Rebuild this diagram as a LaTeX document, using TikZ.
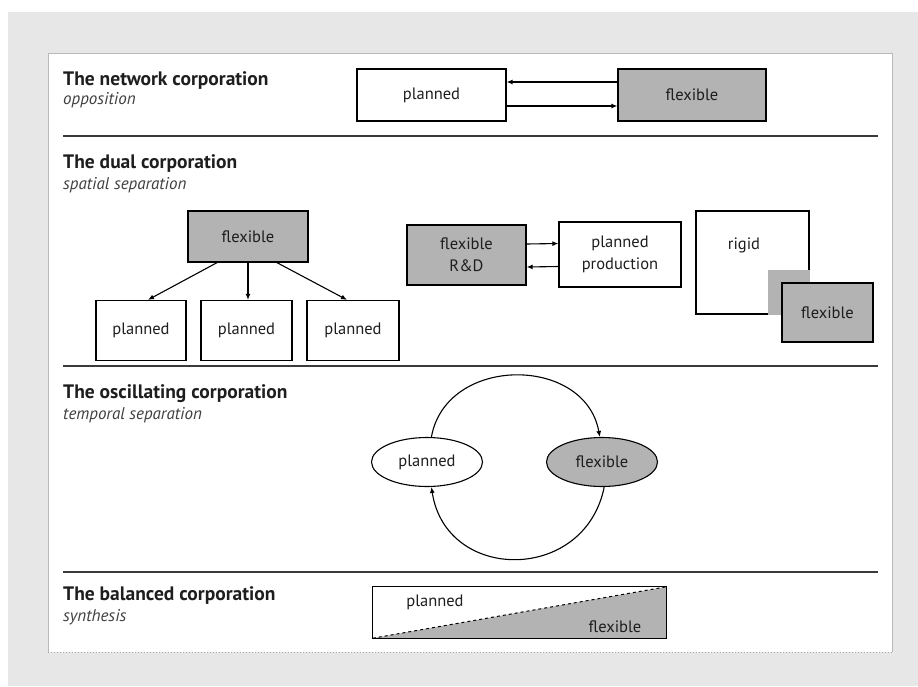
\documentclass[tikz,border=0pt]{standalone}
\usepackage{fontspec}
\setmainfont{PT Sans}
\usetikzlibrary{arrows.meta,calc,shapes.geometric}
\definecolor{pagegray}{HTML}{E6E7E6}
\definecolor{boxgray}{HTML}{B3B3B3}
\definecolor{ink}{HTML}{1E1E1E}
\definecolor{rulecol}{HTML}{3A3A3A}

\begin{document}
\begin{tikzpicture}[x=1pt,y=-1pt,
  heading/.style={anchor=base west, inner sep=0pt, font=\fontsize{19.5}{22}\selectfont\bfseries, text=ink},
  subhead/.style={anchor=base west, inner sep=0pt, font=\fontsize{17}{19}\selectfont\itshape, text=ink!85},
  lbl/.style={inner sep=0pt, font=\fontsize{16.5}{22}\selectfont, text=ink, align=center},
  box/.style={lbl, draw=black, line width=1.3pt, fill=white},
  greybox/.style={box, fill=boxgray},
  oval/.style={lbl, ellipse, draw=black, line width=1.1pt, fill=white, minimum width=111pt, minimum height=49pt},
  sepline/.style={draw=rulecol, line width=1.6pt},
  arr/.style={draw=black, line width=1.1pt, -{Latex[length=6pt,width=5pt]}},
]
\useasboundingbox (0,0) rectangle (918,686);

% page background and white panel
\fill[white] (0,0) rectangle (918,686);
\fill[pagegray] (8,12) rectangle (918,686);
\fill[white] (48,53) rectangle (892,652);
\draw[gray!55, line width=0.8pt] (48,652) -- (48,53) -- (892,53) -- (892,652);
\draw[gray!70, line width=1pt, dotted] (48,652) -- (892,652);

% section rules
\draw[sepline] (63,136) -- (878,136);
\draw[sepline] (63,366) -- (878,366);
\draw[sepline] (63,572) -- (878,572);

% --- network corporation
\node[heading] (h1) at (63,85) {The network corporation};
\node[subhead] (s1) at (63,104) {opposition};
\node[box, minimum width=149pt, minimum height=52pt] (np) at (431.5,95) {planned};
\node[greybox, minimum width=148pt, minimum height=52pt] (nf) at (692,95) {flexible};
\draw[arr] ($(nf.west)+(0,-13)$) -- ($(np.east)+(0,-13)$);
\draw[arr] ($(np.east)+(0,11)$) -- ($(nf.west)+(0,11)$);

% --- dual corporation
\node[heading] (h2) at (63,168) {The dual corporation};
\node[subhead] (s2) at (63,189) {spatial separation};
\node[greybox, minimum width=120pt, minimum height=51pt] (dflex) at (248,236.5) {flexible};
\node[box, minimum width=90pt, minimum height=60pt] (dp1) at (141,330.5) {planned};
\node[box, minimum width=91pt, minimum height=60pt] (dp2) at (246.5,330.5) {planned};
\node[box, minimum width=92pt, minimum height=60pt] (dp3) at (353,330.5) {planned};
\draw[arr] ($(dflex.south)+(-31,0)$) -- ($(dp1.north)+(7,0)$);
\draw[arr] (dflex.south) -- ($(dp2.north)+(1.5,0)$);
\draw[arr] ($(dflex.south)+(29,0)$) -- ($(dp3.north)+(-6,0)$);

\node[greybox, minimum width=119pt, minimum height=60pt] (rd) at (466.5,255) {flexible\\R\&D};
\node[box, minimum width=122pt, minimum height=65pt] (prod) at (620,254.5) {planned\\production};
\draw[arr] ($(rd.east)+(0,-11)$) -- ($(prod.west)+(0,-11)$);
\draw[arr] ($(prod.west)+(0,12)$) -- ($(rd.east)+(0,12)$);

\node[box, minimum width=113pt, minimum height=103pt] (rig) at (752.5,262.5) {};
\node[lbl] (rigt) at (744,245) {rigid};
\fill[boxgray] (768,270) rectangle (rig.south east);
\node[greybox, minimum width=91pt, minimum height=59pt] (cflex) at (827.5,312.5) {flexible};

% --- oscillating corporation
\node[heading] (h3) at (63,398) {The oscillating corporation};
\node[subhead] (s3) at (63,419) {temporal separation};
\node[oval] (opl) at (427,462) {planned};
\node[oval, fill=boxgray] (ofl) at (602,462) {flexible};
\draw[arr] (opl.80) .. controls (446,355) and (585,355) .. (ofl.95);
\draw[arr] (ofl.-85) .. controls (585,583) and (446,583) .. (opl.-80);

% --- balanced corporation
\node[heading] (h4) at (63,600) {The balanced corporation};
\node[subhead] (s4) at (63,621) {synthesis};
\node[minimum width=293pt, minimum height=51pt, inner sep=0pt] (bal) at (519.5,612.5) {};
\fill[boxgray] (bal.south west) -- (bal.north east) -- (bal.south east) -- cycle;
\draw[black, line width=1pt, dashed] (bal.south west) -- (bal.north east);
\draw[black, line width=1.3pt] (bal.south west) rectangle (bal.north east);
\node[lbl] (bpl) at (435,602) {planned};
\node[lbl] (bfl) at (615,627) {flexible};
\end{tikzpicture}
\end{document}
